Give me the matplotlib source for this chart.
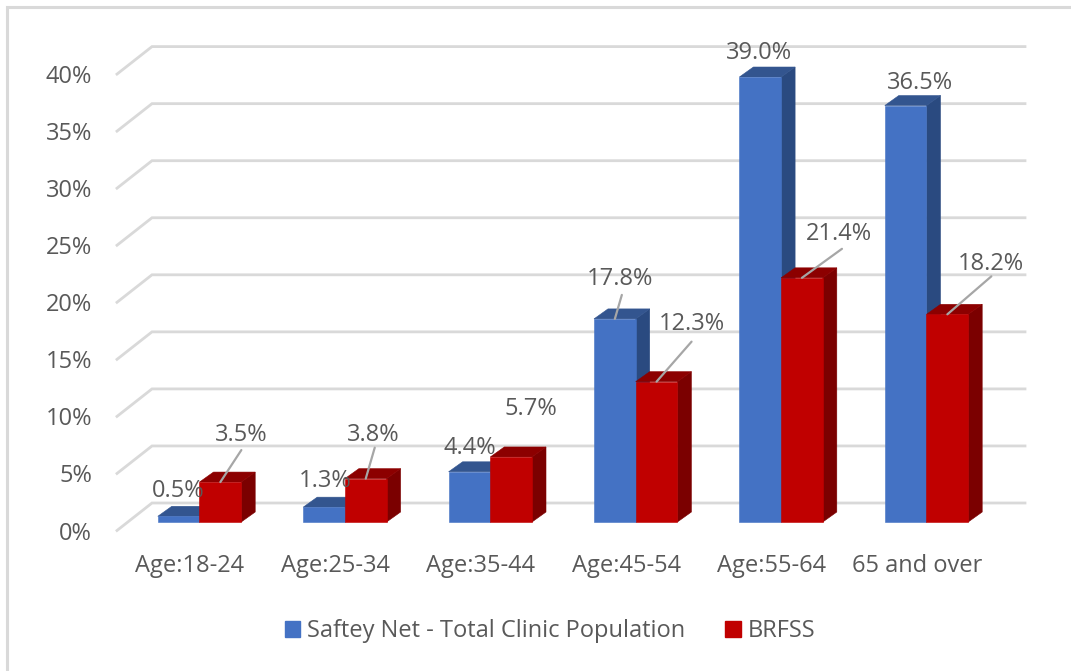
import matplotlib
matplotlib.use("Agg")
import matplotlib.pyplot as plt
from matplotlib.lines import Line2D
from matplotlib.patches import Patch

plt.rcParams['font.family'] = ['Open Sans', 'DejaVu Sans']

# Chart data
categories = ["Age:18-24", "Age:25-34", "Age:35-44", "Age:45-54", "Age:55-64", "65 and over"]
safety_net = [0.5, 1.3, 4.4, 17.8, 39.0, 36.5]
brfss = [3.5, 3.8, 5.7, 12.3, 21.4, 18.2]
y_ticks = [0, 5, 10, 15, 20, 25, 30, 35, 40]

# Layout in pixels
W, H = 1071, 671
X0, X_STEP = 199.5, 145.4     # first category centre, category spacing
Y0, Y_STEP = 522.0, 11.41     # baseline, pixels per percent
BAR_W = 41.7 / X_STEP
DX, DY = 14 / X_STEP, 10 / Y_STEP
FS = 17
TEXT_SHIFT = 3                # text sits a little low in its box

# label offset from top-centre of the bar front, and leader line ends (pixels)
blue_label_off = [(-0.5, 28), (1, 29), (0, 27), (5, 43), (-1, 27), (14, 26)]
red_label_off = [(21, 50), (8, 47), (20, 51), (35, 61), (37, 47), (44, 53)]
blue_leader = [None, None, None, ((0, 2), (7, 24)), None, None]
red_leader = [((1, 5), (21, 32)), ((0, 5), (9, 31)), None, ((0, 2), (35, 40)),
              ((2, 2), (40, 29)), ((-1, 3), (44, 38))]

TEXT = "#595959"
GRID = "#D9D9D9"
COL_BLUE = ("#4472C4", "#2A4A80", "#33558F")
COL_RED = ("#C00000", "#7B0000", "#8C0000")


def draw_bar(ax, x_left, value, colors):
    front, side, top = colors
    x_right = x_left + BAR_W
    ax.fill([x_right, x_right + DX, x_right + DX, x_right],
            [0, DY, value + DY, value], color=side, lw=0.4, zorder=3)
    ax.fill([x_left, x_left + DX, x_right + DX, x_right],
            [value, value + DY, value + DY, value], color=top, lw=0.4, zorder=3)
    ax.bar(x_left, value, BAR_W, align='edge', color=front, edgecolor=front, lw=0.4, zorder=3)


def add_label(ax, x, value, text, off, leader):
    if leader is not None:
        ax.annotate("", xy=(x, value), xycoords='data',
                    xytext=(leader[1][0] * 0.72, leader[1][1] * 0.72), textcoords='offset points',
                    arrowprops=dict(arrowstyle='-', color="#A6A6A6", lw=1.6,
                                    shrinkA=0, shrinkB=0,
                                    relpos=(0.5, 0.5)), zorder=5)
    ax.annotate(text, xy=(x, value), xycoords='data',
                xytext=(off[0] * 0.72, (off[1] - TEXT_SHIFT) * 0.72), textcoords='offset points',
                ha='center', va='center', fontsize=FS, color=TEXT, zorder=6)


fig = plt.figure(figsize=(W / 100, H / 100), dpi=100)
ax = fig.add_axes([0, 0, 1, 1])
ax.set_xlim((0 - X0) / X_STEP, (W - X0) / X_STEP)
ax.set_ylim((Y0 - H) / Y_STEP, Y0 / Y_STEP)
ax.axis('off')

# outer frame, only top and left show in the crop
fig.add_artist(Line2D([7 / W, 7 / W, 1], [0, 1 - 7 / H, 1 - 7 / H], transform=fig.transFigure,
                      color=GRID, lw=2.2, solid_joinstyle='miter'))

# gridlines: back wall plus diagonal on floor side
back_dy = 19 / Y_STEP
front_dy = -8.5 / Y_STEP
left_back = (152 - X0) / X_STEP
left_front = (117 - X0) / X_STEP
right_back = (1025 - X0) / X_STEP
for t in y_ticks:
    ax.plot([left_front, left_back, right_back],
            [t + front_dy, t + back_dy, t + back_dy], color=GRID, lw=2, zorder=1,
            solid_joinstyle='miter')
    ax.text((92 - X0) / X_STEP, t + front_dy - TEXT_SHIFT / Y_STEP, f"{t}%", ha='right', va='center',
            fontsize=FS, color=TEXT)

# bars
for i in range(len(categories)):
    draw_bar(ax, i - BAR_W, safety_net[i], COL_BLUE)
    draw_bar(ax, i, brfss[i], COL_RED)
    ax.text(i - 0.065, (Y0 - 566) / Y_STEP, categories[i],
            ha='center', va='center', fontsize=FS, color=TEXT)

# data labels
for i in range(len(categories)):
    add_label(ax, i - BAR_W / 2, safety_net[i], f"{safety_net[i]:.1f}%", blue_label_off[i], blue_leader[i])
    add_label(ax, i + BAR_W / 2, brfss[i], f"{brfss[i]:.1f}%", red_label_off[i], red_leader[i])

# legend
handles = [Patch(color=COL_BLUE[0], label="Saftey Net - Total Clinic Population"),
           Patch(color=COL_RED[0], label="BRFSS")]
fig.legend(handles=handles, ncol=2, loc='center', bbox_to_anchor=(550 / W, 1 - 631 / H),
           frameon=False, fontsize=FS, labelcolor=TEXT, handlelength=0.65, handleheight=0.65,
           handletextpad=0.3, columnspacing=1.7)

fig.savefig("out.png", dpi=100)
